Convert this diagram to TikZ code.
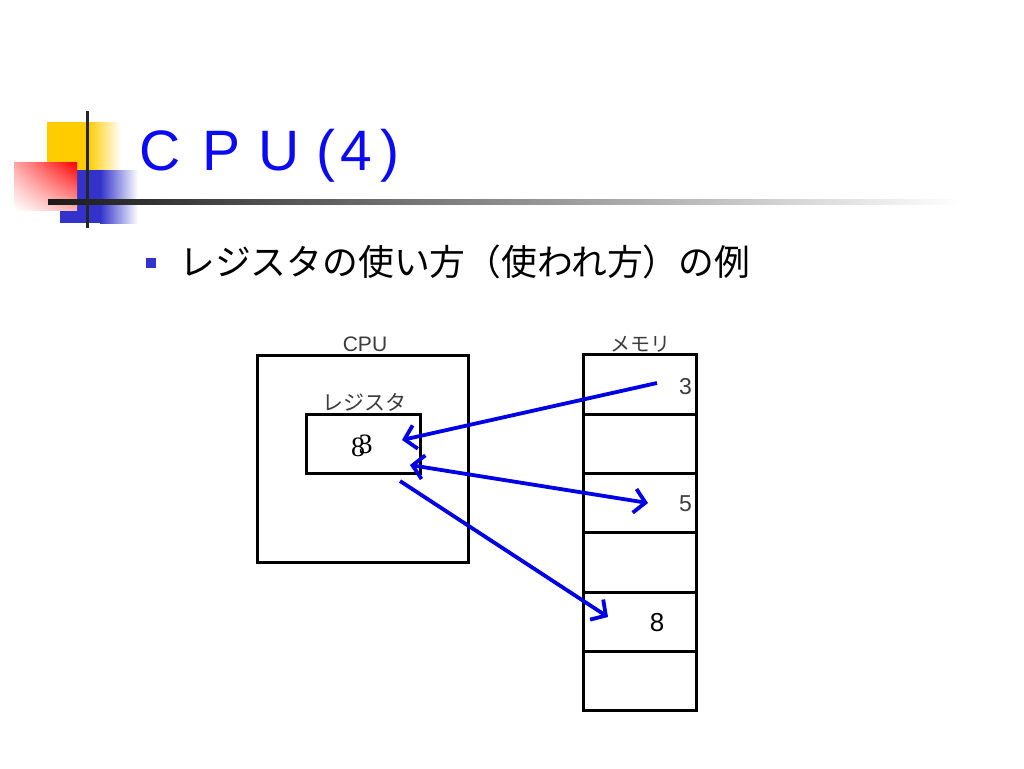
\documentclass[tikz,border=0pt]{standalone}
\usepackage{fontspec}
\setmainfont{Liberation Sans}
\newfontfamily\jpfont{Noto Sans CJK JP}
\newfontfamily\seriffont{Liberation Serif}
\usetikzlibrary{arrows.meta,shadings}
\definecolor{titleblue}{RGB}{10,10,245}
\definecolor{arrowblue}{RGB}{0,0,230}
\definecolor{barblue}{RGB}{51,51,204}
\definecolor{baryellow}{RGB}{255,204,0}
\definecolor{labelgray}{RGB}{60,60,60}
\begin{document}
\begin{tikzpicture}[x=1pt, y=-1pt,
  box/.style={draw, line width=3pt, inner sep=0pt},
  cell/.style={box, minimum width=113pt, minimum height=59.3pt},
  lbl/.style={labelgray, inner sep=0pt, font=\fontsize{20}{20}\selectfont\jpfont},
  val/.style={inner sep=0pt, font=\fontsize{23}{23}\selectfont},
  link/.style={arrowblue, line width=3.8pt, >={Straight Barb[length=11pt,width=24pt]}}]
\useasboundingbox (0,0) rectangle (1024,768);
\fill[white] (0,0) rectangle (1024,768);
\fill[baryellow] (47,122) rectangle (88,170);
\shade[left color=baryellow, right color=white] (88,122) rectangle (121,170);
\fill[barblue] (60,170) rectangle (100,223);
\shade[left color=barblue, right color=white] (100,170) rectangle (138,223);
\shade[upper left=red!35, upper right=red, lower left=white, lower right=red!30] (14,162) rectangle (77,210);
\shade[left color=black!90, middle color=black!40, right color=white] (48,199) rectangle (960,204);
\fill[black!85] (85.5,111) rectangle (88.5,228);
\node[titleblue, anchor=base west, inner sep=0pt, font=\fontsize{57}{60}\selectfont] (title) at (139.2,170)
  {C\hspace{22.2pt}P\hspace{17.9pt}U\hspace{16.3pt}(\hspace{5.2pt}4\hspace{8.1pt})};
\node[fill=barblue, minimum size=10pt, inner sep=0pt] (bullet) at (151,263) {};
\node[anchor=base west, inner sep=0pt, font=\fontsize{35.8}{40}\selectfont\jpfont] (point) at (179,275) {レジスタの使い方（使われ方）の例};
\node[box, minimum width=211pt, minimum height=207pt] (cpu) at (362.5,458.5) {};
\node[box, minimum width=114pt, minimum height=59pt] (reg) at (363,443.5) {};
\node[lbl, font=\fontsize{21}{21}\selectfont] (cpulabel) at (365,344) {CPU};
\node[lbl, font=\fontsize{21}{21}\selectfont\jpfont] (reglabel) at (364,402) {レジスタ};
\node[lbl] (memlabel) at (640,344) {メモリ};
\foreach \i in {0,...,5}
  \node[cell] (m\i) at (639.5,{384.6+59.3*\i}) {};
\node[val, labelgray, anchor=east] (v3) at (692,387) {3};
\node[val, labelgray, anchor=east] (v5) at (692,504) {5};
\node[val, font=\fontsize{26}{26}\selectfont] (v8) at (657,623) {8};
\node[val, font=\fontsize{28}{28}\selectfont\seriffont] (old) at (358,447.5) {8};
\node[val, font=\fontsize{28}{28}\selectfont\seriffont] (new) at (365.5,444) {3};
\coordinate (r1) at (402,440);
\coordinate (r2) at (410,465);
\coordinate (r3) at (400,481);
\coordinate (a3) at (657,383);
\coordinate (a5) at (648,503);
\coordinate (a8) at (608,617);
\draw[link, ->] (a3) to (r1);
\draw[link, <->] (r2) to (a5);
\draw[link, ->] (r3) to (a8);
\end{tikzpicture}
\end{document}
